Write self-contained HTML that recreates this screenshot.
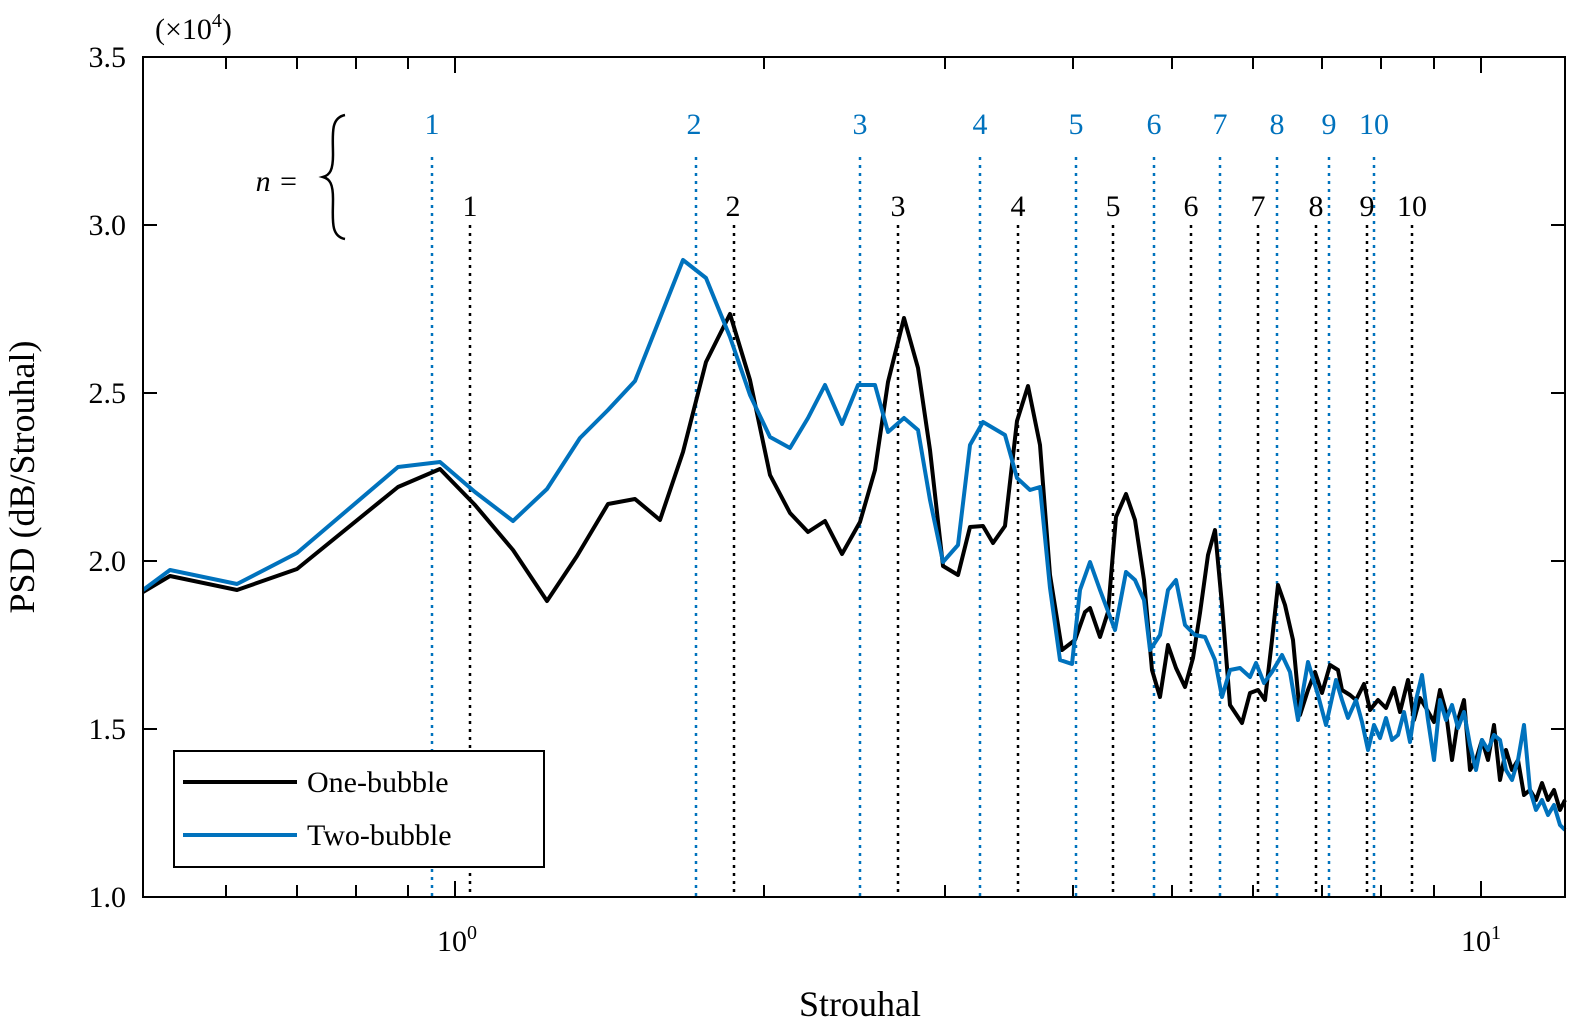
<!DOCTYPE html>
<html><head><meta charset="utf-8"><style>
body{margin:0;background:#fff}
svg{display:block;font-family:"Liberation Serif",serif}
</style></head><body>
<svg width="1569" height="1031" viewBox="0 0 1569 1031" xmlns="http://www.w3.org/2000/svg">
<rect x="0" y="0" width="1569" height="1031" fill="#fff"/>
<g stroke="#0072bd" stroke-width="2.5" stroke-dasharray="3,5">
<line x1="432" y1="157" x2="432" y2="897"/><line x1="696" y1="157" x2="696" y2="897"/>
<line x1="860" y1="157" x2="860" y2="897"/><line x1="980" y1="157" x2="980" y2="897"/>
<line x1="1076" y1="157" x2="1076" y2="897"/><line x1="1154" y1="157" x2="1154" y2="897"/>
<line x1="1220" y1="157" x2="1220" y2="897"/><line x1="1277" y1="157" x2="1277" y2="897"/>
<line x1="1329" y1="157" x2="1329" y2="897"/><line x1="1374" y1="157" x2="1374" y2="897"/>
</g>
<g stroke="#000" stroke-width="2.5" stroke-dasharray="3,5">
<line x1="470" y1="225" x2="470" y2="897"/><line x1="734" y1="225" x2="734" y2="897"/>
<line x1="898" y1="225" x2="898" y2="897"/><line x1="1018" y1="225" x2="1018" y2="897"/>
<line x1="1113" y1="225" x2="1113" y2="897"/><line x1="1191" y1="225" x2="1191" y2="897"/>
<line x1="1258" y1="225" x2="1258" y2="897"/><line x1="1316" y1="225" x2="1316" y2="897"/>
<line x1="1367" y1="225" x2="1367" y2="897"/><line x1="1412" y1="225" x2="1412" y2="897"/>
</g>
<g font-size="30" fill="#0072bd" text-anchor="middle">
<text x="432" y="134">1</text><text x="694" y="134">2</text><text x="860" y="134">3</text><text x="980" y="134">4</text><text x="1076" y="134">5</text><text x="1154" y="134">6</text><text x="1220" y="134">7</text><text x="1277" y="134">8</text><text x="1329" y="134">9</text><text x="1374" y="134">10</text>
</g>
<g font-size="30" fill="#000" text-anchor="middle">
<text x="470" y="216">1</text><text x="733" y="216">2</text><text x="898" y="216">3</text><text x="1018" y="216">4</text><text x="1113" y="216">5</text><text x="1191" y="216">6</text><text x="1258" y="216">7</text><text x="1316" y="216">8</text><text x="1367" y="216">9</text><text x="1412" y="216">10</text>
</g>
<text x="277" y="191" font-size="30" font-style="italic" text-anchor="middle">n =</text>
<path d="M345,115 C330,118 333,135 333,155 C333,170 330,175 323,177 C330,179 333,184 333,199 C333,219 330,236 345,239" fill="none" stroke="#000" stroke-width="2.5"/>
<polyline fill="none" stroke="#000" stroke-width="4" stroke-linejoin="round" points="143,592 170,576 237,590 297,569 398,487 440,469 475,505 513,550 547,601 577,556 608,504 635,499 660,520 683,452 706,362 730,314 750,380 770,475 790,513 808,532 825,521 842,554 860,522 875,470 888,382 904,318 918,368 930,450 943,566 958,575 970,527 983,526 993,543 1005,526 1017,421 1028,386 1040,445 1050,575 1062,650 1075,640 1085,612 1090,608 1100,637 1108,612 1116,517 1126,494 1135,520 1144,580 1152,670 1160,697 1168,645 1176,668 1185,687 1193,658 1200,613 1208,555 1215,530 1222,605 1230,705 1242,723 1250,693 1258,690 1265,700 1272,640 1278,585 1285,605 1293,640 1300,715 1308,690 1315,672 1322,693 1330,665 1338,670 1342,690 1350,695 1356,700 1364,684 1370,710 1378,700 1386,708 1394,688 1400,712 1408,680 1414,720 1420,698 1426,708 1434,722 1440,690 1446,712 1452,760 1458,720 1464,700 1470,770 1476,760 1482,740 1488,760 1494,725 1500,780 1506,750 1512,770 1518,760 1524,795 1530,790 1536,800 1542,783 1548,800 1554,790 1560,810 1565,800"/>
<polyline fill="none" stroke="#0072bd" stroke-width="4" stroke-linejoin="round" points="143,590 170,570 237,584 297,553 398,467 440,462 475,492 513,521 547,489 580,438 608,410 635,381 660,318 683,260 706,278 730,337 750,395 770,437 790,448 808,418 825,385 842,424 858,385 875,385 888,432 904,418 918,430 930,500 943,562 958,545 970,445 983,422 1005,435 1017,478 1030,490 1040,487 1050,588 1060,660 1072,664 1080,590 1090,562 1100,590 1115,630 1126,572 1135,580 1144,600 1150,650 1160,635 1168,590 1176,580 1185,625 1195,635 1205,637 1215,660 1222,697 1230,670 1240,668 1250,677 1256,663 1264,683 1272,672 1282,655 1290,672 1298,720 1308,662 1318,695 1326,725 1336,680 1342,700 1348,718 1356,700 1362,722 1368,750 1374,725 1380,738 1386,718 1392,740 1398,735 1404,712 1410,742 1416,700 1422,675 1428,720 1434,760 1440,700 1446,720 1452,705 1458,728 1464,712 1470,745 1476,770 1482,740 1488,750 1494,735 1500,740 1506,770 1512,780 1518,760 1524,725 1530,790 1536,810 1542,800 1548,815 1554,805 1560,825 1565,830"/>
<rect x="143" y="57" width="1422" height="840" fill="none" stroke="#000" stroke-width="2"/>
<g stroke="#000" stroke-width="2">
<path d="M226,897v-12M297,897v-12M356,897v-12M408,897v-12M455,897v-16M764,897v-12M945,897v-12M1073,897v-12M1172,897v-12M1253,897v-12M1322,897v-12M1381,897v-12M1434,897v-12M1481,897v-16"/>
<path d="M226,57v12M297,57v12M356,57v12M408,57v12M455,57v16M764,57v12M945,57v12M1073,57v12M1172,57v12M1253,57v12M1322,57v12M1381,57v12M1434,57v12M1481,57v16"/>
<path d="M143,729h14M143,561h14M143,393h14M143,225h14M1565,729h-14M1565,561h-14M1565,393h-14M1565,225h-14"/>
</g>
<g font-size="30" text-anchor="end">
<text x="126" y="907">1.0</text><text x="126" y="739">1.5</text><text x="126" y="571">2.0</text><text x="126" y="403">2.5</text><text x="126" y="235">3.0</text><text x="126" y="67">3.5</text>
</g>
<text x="437" y="951" font-size="30">10<tspan font-size="20" dy="-12">0</tspan></text>
<text x="1461" y="951" font-size="30">10<tspan font-size="20" dy="-12">1</tspan></text>
<text x="860" y="1016" font-size="36" text-anchor="middle">Strouhal</text>
<text transform="translate(34,477) rotate(-90)" font-size="36" text-anchor="middle">PSD (dB/Strouhal)</text>
<text x="155" y="39" font-size="30">(×10<tspan font-size="20" dy="-12">4</tspan><tspan dy="12">)</tspan></text>
<rect x="174" y="751" width="370" height="116" fill="#fff" stroke="#000" stroke-width="2"/>
<line x1="183" y1="782" x2="297" y2="782" stroke="#000" stroke-width="4"/>
<line x1="183" y1="835" x2="297" y2="835" stroke="#0072bd" stroke-width="4"/>
<text x="307" y="792" font-size="30">One-bubble</text>
<text x="307" y="845" font-size="30">Two-bubble</text>
</svg>
</body></html>
